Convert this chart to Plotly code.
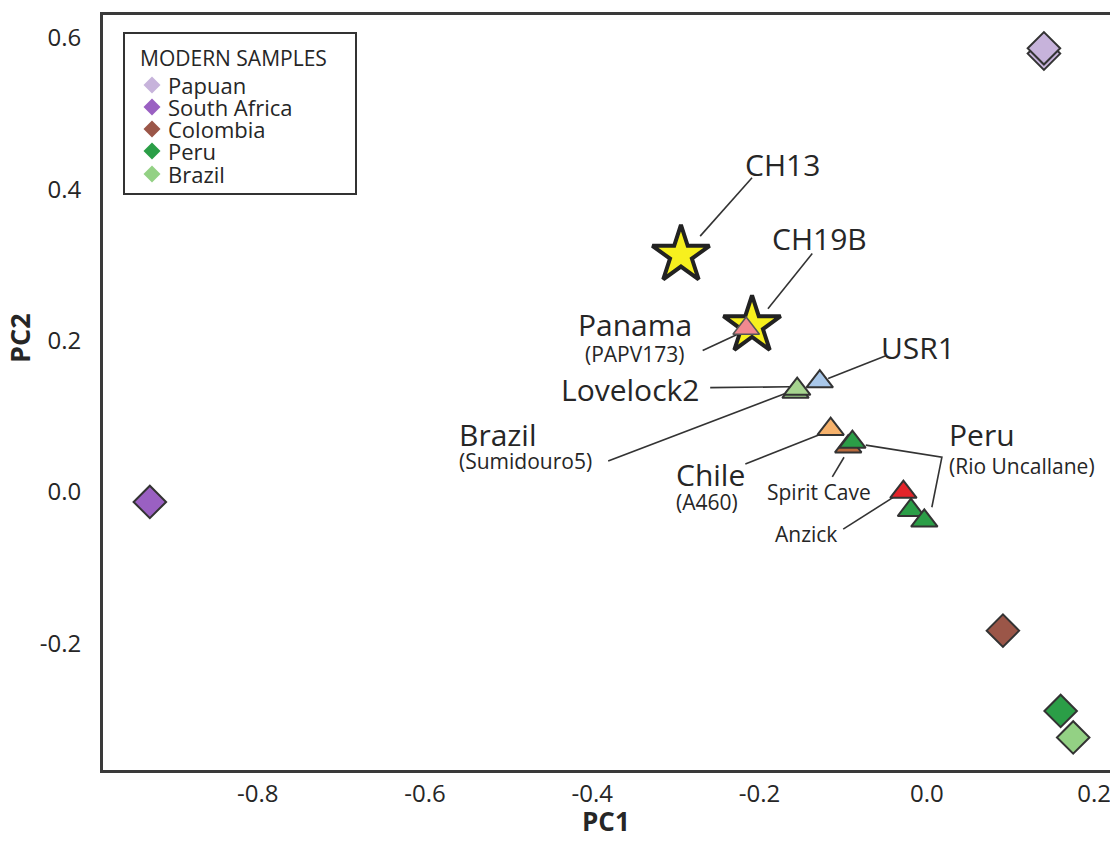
import plotly.graph_objects as go

# ---------------- data ----------------
modern_names = ["Papuan", "South Africa", "Colombia", "Peru", "Brazil"]
modern_colors = ["#c7b3db", "#9a60c2", "#9b5648", "#2b9e47", "#93d184"]
# Papuan has two overlapping samples
modern_x = [[0.140, 0.140], [-0.929], [0.091], [0.160], [0.175]]
modern_y = [[0.579, 0.586], [-0.013], [-0.183], [-0.289], [-0.324]]

# ancient samples (triangles), drawn in this order
anc_names = ["Brazil (Sumidouro5)", "Lovelock2", "USR1", "Chile (A460)",
             "Spirit Cave", "Peru (Rio Uncallane) a", "Anzick",
             "Peru (Rio Uncallane) b", "Peru (Rio Uncallane) c"]
anc_x = [-0.157, -0.155, -0.128, -0.115, -0.094, -0.089, -0.028, -0.019, -0.003]
anc_y = [0.132, 0.136, 0.146, 0.083, 0.060, 0.066, 0.000, -0.024, -0.038]
anc_colors = ["#9fd38a", "#a6d48f", "#a9c8ea", "#f6b26c", "#b8693c",
              "#2b9e47", "#e4242a", "#2b9e47", "#2b9e47"]

star_names = ["CH13", "CH19B"]
star_x = [-0.294, -0.209]
star_y = [0.313, 0.220]

panama_x = [-0.216]
panama_y = [0.216]

x_ticks = [-0.8, -0.6, -0.4, -0.2, 0.0, 0.2]
x_tick_text = ["-0.8", "-0.6", "-0.4", "-0.2", "0.0", "0.2"]
y_ticks = [-0.2, 0.0, 0.2, 0.4, 0.6]
y_tick_text = ["-0.2", "0.0", "0.2", "0.4", "0.6"]

# leader lines (data coordinates)
leaders = [
    ([-0.271, -0.209], [0.338, 0.415]),            # CH13
    ([-0.190, -0.137], [0.242, 0.315]),            # CH19B
    ([-0.268, -0.221], [0.187, 0.211]),            # Panama
    ([-0.118, -0.049], [0.150, 0.180]),            # USR1
    ([-0.259, -0.164], [0.138, 0.139]),            # Lovelock2
    ([-0.381, -0.170], [0.041, 0.130]),            # Brazil
    ([-0.217, -0.121], [0.037, 0.079]),            # Chile
    ([-0.113, -0.099], [0.020, 0.046]),            # Spirit Cave
    ([-0.073, 0.018, 0.006], [0.062, 0.046, -0.020]),  # Peru bracket
    ([-0.100, -0.036], [-0.049, -0.004]),          # Anzick
]

# labels: (text, x, y, size, xanchor)
labels = [
    ("CH13", -0.173, 0.433, 30, "center"),
    ("CH19B", -0.128, 0.335, 30, "center"),
    ("Panama", -0.349, 0.221, 30, "center"),
    ("(PAPV173)", -0.349, 0.183, 21, "center"),
    ("USR1", -0.011, 0.191, 30, "center"),
    ("Lovelock2", -0.355, 0.135, 30, "center"),
    ("Brazil", -0.562, 0.076, 30, "left"),
    ("(Sumidouro5)", -0.562, 0.041, 21, "left"),
    ("Chile", -0.259, 0.023, 30, "center"),
    ("(A460)", -0.263, -0.013, 21, "center"),
    ("Spirit Cave", -0.129, 0.000, 21, "center"),
    ("Peru", 0.024, 0.076, 30, "left"),
    ("(Rio Uncallane)", 0.024, 0.034, 21, "left"),
    ("Anzick", -0.145, -0.056, 21, "center"),
]

legend_title = "MODERN SAMPLES"

FONT = "Open Sans"
DARK = "#262626"

W, H = 1110, 841
ML, MR, MT, MB = 103, 0, 15, 71
PW, PH = W - ML - MR, H - MT - MB


def px(x):
    return (x - ML) / PW


def py(y):
    return (H - MB - y) / PH


fig = go.Figure()

for lx, ly in leaders:
    fig.add_trace(go.Scatter(x=lx, y=ly, mode="lines",
                             line=dict(color="#333333", width=1.6),
                             showlegend=False, hoverinfo="skip"))

# modern samples (diamonds)
for name, xs, ys, c in zip(modern_names, modern_x, modern_y, modern_colors):
    fig.add_trace(go.Scatter(x=xs, y=ys, mode="markers", name=name,
                             marker=dict(symbol="diamond", size=25, color=c,
                                         line=dict(color="#333333", width=2)),
                             showlegend=False))

# stars
fig.add_trace(go.Scatter(x=star_x, y=star_y, mode="markers", text=star_names,
                         marker=dict(symbol="star", size=43, color="#f7f01e",
                                     line=dict(color="#222222", width=4)),
                         showlegend=False))

# ancient samples (triangles)
fig.add_trace(go.Scatter(x=anc_x, y=anc_y, mode="markers", text=anc_names,
                         marker=dict(symbol="triangle-up", size=23, color=anc_colors,
                                     line=dict(color="#333333", width=2)),
                         showlegend=False))

fig.add_trace(go.Scatter(x=panama_x, y=panama_y, mode="markers", text=["Panama (PAPV173)"],
                         marker=dict(symbol="triangle-up", size=23, color="#f1898f",
                                     line=dict(color="#555555", width=1.5)),
                         showlegend=False))

for text, x, y, size, anchor in labels:
    fig.add_annotation(x=x, y=y, text=text, showarrow=False, xanchor=anchor,
                       yanchor="middle",
                       font=dict(family=FONT, size=size, color=DARK))

# ---- manual legend box ----
fig.add_shape(type="rect", xref="paper", yref="paper",
              x0=px(124), x1=px(356), y0=py(194), y1=py(33),
              line=dict(color="#333333", width=2), fillcolor="white", layer="above")
fig.add_annotation(xref="paper", yref="paper", x=px(138), y=py(58), text=legend_title,
                   showarrow=False, xanchor="left", yanchor="middle",
                   font=dict(family=FONT, size=21, color=DARK))
item_y = [85, 107, 129, 151, 174]
for name, c, yy in zip(modern_names, modern_colors, item_y):
    cx, cy, r = 152, yy, 8.5
    path = "M {} {} L {} {} L {} {} L {} {} Z".format(
        px(cx - r), py(cy), px(cx), py(cy - r), px(cx + r), py(cy), px(cx), py(cy + r))
    fig.add_shape(type="path", xref="paper", yref="paper", path=path,
                  fillcolor=c, line=dict(width=0), layer="above")
    fig.add_annotation(xref="paper", yref="paper", x=px(166), y=py(yy), text=name,
                       showarrow=False, xanchor="left", yanchor="middle",
                       font=dict(family=FONT, size=22, color=DARK))

# axis titles
fig.add_annotation(xref="paper", yref="paper", x=px(19), y=py(338), text="<b>PC2</b>",
                   textangle=-90, showarrow=False, xanchor="center", yanchor="middle",
                   font=dict(family=FONT, size=27, color=DARK))
fig.add_annotation(xref="paper", yref="paper", x=px(606), y=py(821), text="<b>PC1</b>",
                   showarrow=False, xanchor="center", yanchor="middle",
                   font=dict(family=FONT, size=26, color=DARK))

fig.update_layout(
    width=W, height=H,
    margin=dict(l=ML, r=MR, t=MT, b=MB),
    paper_bgcolor="white", plot_bgcolor="white",
    font=dict(family=FONT, color=DARK),
    showlegend=False,
    xaxis=dict(range=[-0.985, 0.219], tickvals=x_ticks, ticktext=x_tick_text,
               showgrid=False, zeroline=False, showline=True, linecolor="#3a3a3a",
               linewidth=3, mirror=True, ticks="", ticklabelstandoff=0,
               ticklabeloverflow="allow",
               tickfont=dict(family=FONT, size=24, color=DARK)),
    yaxis=dict(range=[-0.367, 0.630], tickvals=y_ticks, ticktext=y_tick_text,
               showgrid=False, zeroline=False, showline=True, linecolor="#3a3a3a",
               linewidth=3, mirror=False, ticks="", ticklabelstandoff=14,
               tickfont=dict(family=FONT, size=24, color=DARK)),
)

fig.write_html("out.html", config={"displayModeBar": False},
               post_script="document.body.style.margin='0';")
